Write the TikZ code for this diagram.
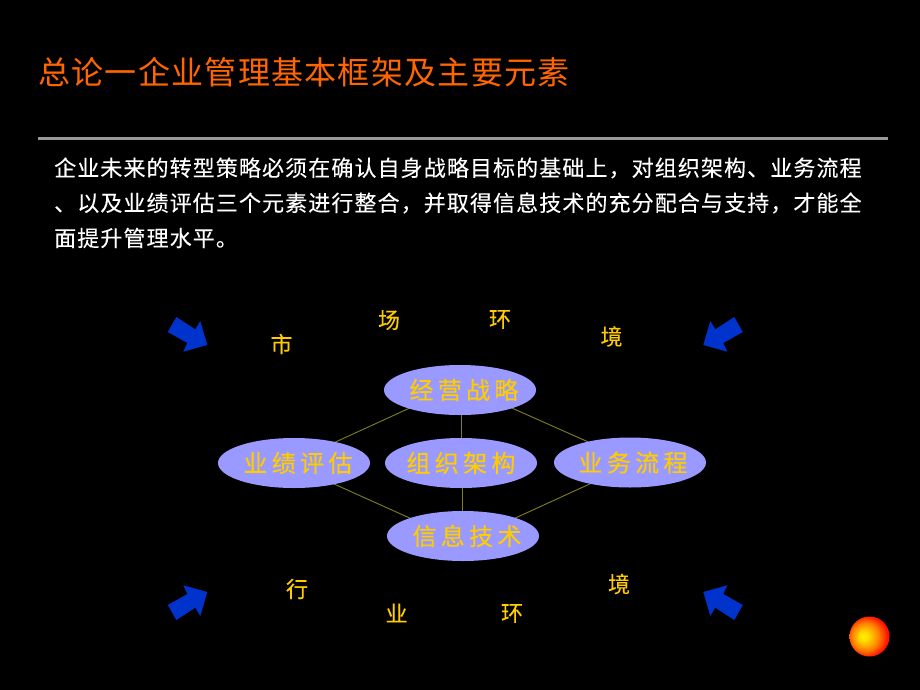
\documentclass[tikz,border=0pt]{standalone}
\usepackage{fontspec}
\usetikzlibrary{shapes.geometric,backgrounds}
\newfontfamily\cjk{Noto Sans CJK SC}
\newcommand{\cjktext}[2]{\fontsize{#1}{#1}\selectfont\addfontfeatures{LetterSpace=#2}}
\newcommand{\cjkheavy}[3]{\fontsize{#1}{#1}\selectfont\addfontfeatures{LetterSpace=#2,FakeBold=#3}}
\newcommand{\ovaltext}[2]{\makebox[0pt]{\kern#1pt #2}}
\definecolor{titleorange}{HTML}{FF6600}
\definecolor{gold}{HTML}{FFCC00}
\definecolor{lilac}{HTML}{9999FF}
\definecolor{arrowblue}{HTML}{0033CC}
\definecolor{linkolive}{HTML}{808020}
\definecolor{rulegrey}{HTML}{999999}
\pgfdeclarelayer{backdrop}
\pgfsetlayers{backdrop,background,main}
\pgfdeclareradialshading{ballglow}{\pgfpoint{-8bp}{0bp}}{
  color(0bp)=(yellow!90!orange);
  color(6bp)=(yellow!70!orange);
  color(17bp)=(orange);
  color(26bp)=(red!85!orange);
  color(50bp)=(red)}
\tikzset{
  x=1pt,y=-1pt,
  titletext/.style={anchor=west,inner sep=0,text=titleorange,font=\cjk\cjktext{32}{4.1}},
  bodytext/.style={anchor=west,inner sep=0,text=white,font=\cjk\cjkheavy{22}{5}{0.15}},
  around/.style={inner sep=0,text=gold,font=\cjk\cjkheavy{22}{0}{0.2}},
  oval/.style={ellipse,fill=lilac,inner sep=0,minimum width=152pt,minimum height=50pt,text=gold,font=\cjk\cjkheavy{24}{18}{0.4}},
  link/.style={draw=linkolive,line width=0.9pt},
  bluearrow/.style={fill=arrowblue,draw=none},
}
\newcommand{\bigarrow}[2]{%
  \fill[bluearrow,shift={(#1)},#2]
    (-31,-28) -- (-39.5,-13) -- (-20,-2) -- (-24,6.7) -- (0,0) -- (-7,-24) -- (-12,-15.7) -- cycle;}
\begin{document}
\begin{tikzpicture}
\useasboundingbox (0,0) rectangle (920,690);
\begin{pgfonlayer}{backdrop}
\fill[black] (0,0) rectangle (920,690);
\end{pgfonlayer}

\node[titletext] (title) at (38,72) {总论一企业管理基本框架及主要元素};
\coordinate (ruleL) at (38,138);
\coordinate (ruleR) at (888,138);
\draw[rulegrey,line width=3pt] (ruleL) -- (ruleR);

\node[bodytext] (l1) at (54,168) {企业未来的转型策略必须在确认自身战略目标的基础上，对组织架构、业务流程};
\node[bodytext] (l2) at (54,203) {、以及业绩评估三个元素进行整合，并取得信息技术的充分配合与支持，才能全};
\node[bodytext] (l3) at (54,238) {面提升管理水平。};

\node[oval] (top) at (460,390) {\ovaltext{8}{经营战略}};
\node[oval] (left) at (294,463) {\ovaltext{8}{业绩评估}};
\node[oval] (mid) at (461,463) {\ovaltext{0}{组织架构}};
\node[oval] (right) at (630,462.5) {\ovaltext{6}{业务流程}};
\node[oval] (bot) at (463,536) {\ovaltext{8}{信息技术}};

\begin{scope}[on background layer]
\draw[link] ([yshift=5pt]top.center) -- ([yshift=2pt]left.center);
\draw[link] ([yshift=5pt]top.center) -- ([yshift=2pt]right.center);
\draw[link] ([yshift=-6pt]bot.center) -- ([yshift=-3pt]left.center);
\draw[link] ([yshift=-6pt]bot.center) -- ([yshift=-3pt]right.center);
\draw[link] ([xshift=1pt]top.center) -- (mid.center);
\draw[link] ([xshift=1pt]mid.center) -- ([xshift=-1pt]bot.center);
\end{scope}

\node[around] (m1) at (281.5,344) {市};
\node[around] (m2) at (389,320) {场};
\node[around] (m3) at (500,319.5) {环};
\node[around] (m4) at (611.5,336.5) {境};
\node[around] (i1) at (297,589) {行};
\node[around] (i2) at (396.5,613) {业};
\node[around] (i3) at (512,613.5) {环};
\node[around] (i4) at (619,584) {境};

\bigarrow{207.3,345}{}
\bigarrow{703.3,345}{xscale=-1}
\bigarrow{207.3,592}{yscale=-1}
\bigarrow{703.3,592}{xscale=-1,yscale=-1}

\node[circle,minimum size=40pt,inner sep=0,shading=ballglow] (ball) at (869.5,636.5) {};
\end{tikzpicture}
\end{document}
